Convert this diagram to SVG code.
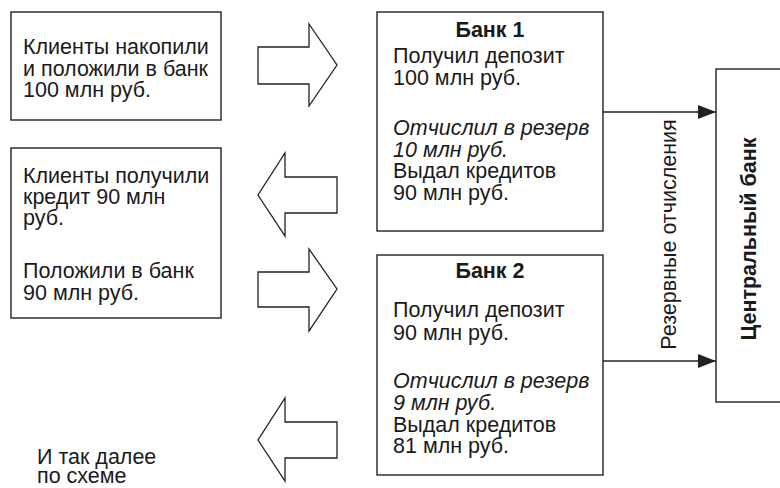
<svg xmlns="http://www.w3.org/2000/svg" width="780" height="488" viewBox="0 0 780 488">
<defs>
<style>
.box{fill:#fff;stroke:#222;stroke-width:1.4}
.blk{fill:#fff;stroke:#222;stroke-width:1.3;stroke-linejoin:miter}
.t{font-family:"Liberation Sans",Arial,sans-serif;font-size:21.5px;fill:#1a1a1a}
.b{font-weight:bold}
.i{font-style:italic}
.ln{stroke:#222;stroke-width:1.4;fill:none}
</style>
<marker id="ah" viewBox="0 0 18 14" refX="18" refY="7" markerWidth="18" markerHeight="14" markerUnits="userSpaceOnUse" orient="auto">
<path d="M0,0 L18,7 L0,14 Z" fill="#222"/>
</marker>
</defs>
<rect width="780" height="488" fill="#fff"/>

<g id="clients1">
<rect class="box" x="11" y="12" width="210" height="108"/>
<text class="t" x="23" y="54">Клиенты накопили</text>
<text class="t" x="23" y="76">и положили в банк</text>
<text class="t" x="23" y="97">100 млн руб.</text>
</g>

<g id="clients2">
<rect class="box" x="11" y="148" width="210" height="170"/>
<text class="t" x="23" y="183">Клиенты получили</text>
<text class="t" x="23" y="204">кредит 90 млн</text>
<text class="t" x="23" y="225">руб.</text>
<text class="t" x="23" y="278">Положили в банк</text>
<text class="t" x="23" y="300">90 млн руб.</text>
</g>

<g id="etc">
<text class="t" x="37" y="464">И так далее</text>
<text class="t" x="37" y="483">по схеме</text>
</g>

<g id="bank1">
<rect class="box" x="377" y="12" width="226" height="219"/>
<text class="t b" x="490" y="37" text-anchor="middle">Банк 1</text>
<text class="t" x="393" y="63">Получил депозит</text>
<text class="t" x="393" y="85">100 млн руб.</text>
<text class="t i" x="393" y="135">Отчислил в резерв</text>
<text class="t i" x="393" y="157">10 млн руб.</text>
<text class="t" x="393" y="178">Выдал кредитов</text>
<text class="t" x="393" y="200">90 млн руб.</text>
</g>

<g id="bank2">
<rect class="box" x="377" y="255" width="226" height="220"/>
<text class="t b" x="490" y="278" text-anchor="middle">Банк 2</text>
<text class="t" x="393" y="317">Получил депозит</text>
<text class="t" x="393" y="340">90 млн руб.</text>
<text class="t i" x="393" y="388">Отчислил в резерв</text>
<text class="t i" x="393" y="410">9 млн руб.</text>
<text class="t" x="393" y="432">Выдал кредитов</text>
<text class="t" x="393" y="453">81 млн руб.</text>
</g>

<g id="central-bank">
<rect class="box" x="716" y="69" width="80" height="333"/>
<text class="t b" transform="translate(756,239) rotate(-90)" text-anchor="middle">Центральный банк</text>
</g>

<g id="connectors">
<path class="blk" d="M258,47 L309,47 L309,24 L337,65 L309,106 L309,84 L258,84 Z"/>
<path class="blk" d="M337,177 L285,177 L285,153 L258,195 L285,236 L285,213 L337,213 Z"/>
<path class="blk" d="M258,272 L309,272 L309,249 L337,289 L309,331 L309,307 L258,307 Z"/>
<path class="blk" d="M337,422 L285,422 L285,398 L258,440 L285,481 L285,458 L337,458 Z"/>
<line class="ln" x1="603" y1="112" x2="716" y2="112" marker-end="url(#ah)"/>
<line class="ln" x1="603" y1="361" x2="716" y2="361" marker-end="url(#ah)"/>
<text class="t" transform="translate(676,234.5) rotate(-90)" text-anchor="middle">Резервные отчисления</text>
</g>
</svg>
